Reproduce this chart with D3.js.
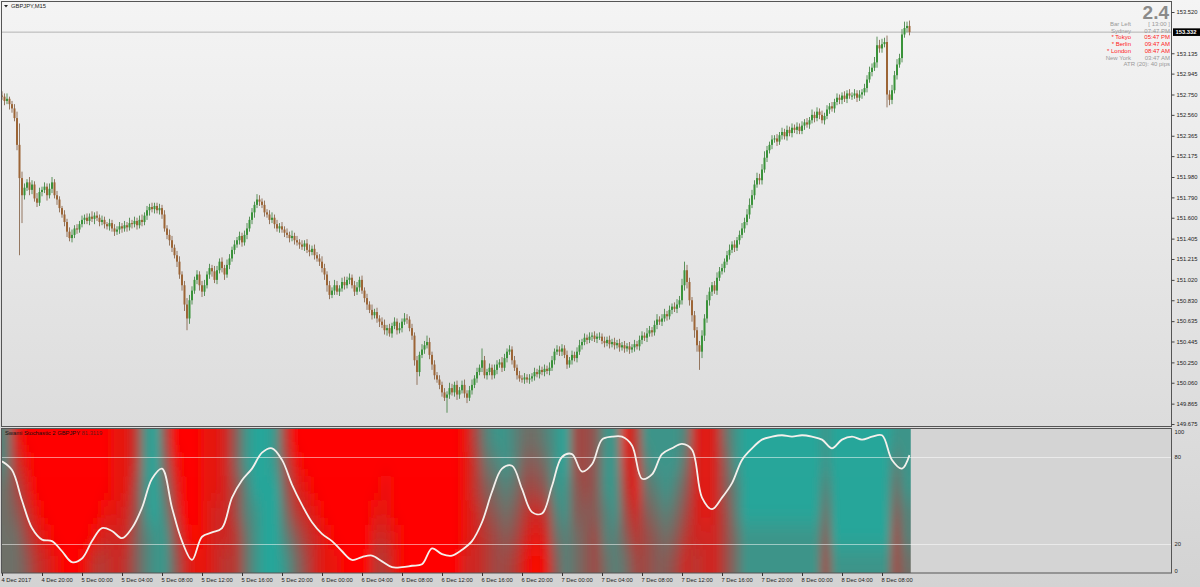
<!DOCTYPE html>
<html><head><meta charset="utf-8">
<script src="https://cdn.jsdelivr.net/npm/d3@7"></script>
<style>body{margin:0;background:#d6d6d6;overflow:hidden}svg{display:block}text{font-family:"Liberation Sans",Arial,sans-serif}</style>
</head><body><svg id="c" width="1200" height="587"></svg>
<script>
// ---------------- DATA ----------------
const symbolTitle = "GBPJPY,M15";
const firstOpen = 152.74;
const closes = [
152.73,152.69,152.71,152.66,152.62,152.53,152.28,151.97,151.81,151.88,151.93,151.86,151.91,151.78,151.74,151.84,
151.86,151.89,151.81,151.87,151.93,151.81,151.77,151.69,151.63,151.56,151.47,151.41,151.44,151.50,151.49,151.54,
151.58,151.60,151.57,151.61,151.59,151.62,151.60,151.56,151.58,151.54,151.52,151.55,151.50,151.47,151.49,151.52,
151.50,151.53,151.51,151.55,151.54,151.57,151.53,151.58,151.56,151.62,151.67,151.70,151.68,151.71,151.67,151.69,
151.63,151.50,151.44,151.39,151.32,151.25,151.19,151.07,150.97,150.79,150.66,150.83,150.92,151.02,151.07,150.97,
150.91,150.97,151.07,151.13,151.10,151.02,151.11,151.19,151.13,151.07,151.16,151.22,151.30,151.35,151.39,151.43,
151.37,151.44,151.50,151.58,151.65,151.72,151.77,151.75,151.72,151.65,151.63,151.58,151.60,151.54,151.50,151.52,
151.49,151.46,151.44,151.41,151.43,151.39,151.37,151.35,151.33,151.36,151.30,151.28,151.31,151.25,151.22,151.19,
151.13,151.07,150.97,150.88,150.92,150.97,150.91,150.94,151.00,150.97,151.02,151.04,150.97,150.91,150.95,151.02,
150.92,150.85,150.79,150.74,150.69,150.72,150.66,150.63,150.60,150.55,150.57,150.52,150.59,150.63,150.55,150.57,
150.63,150.66,150.65,150.57,150.50,150.27,150.16,150.32,150.37,150.41,150.44,150.32,150.23,150.13,150.09,150.04,
149.97,149.92,149.95,150.01,149.97,150.04,149.95,149.99,150.04,149.96,149.92,149.99,150.04,150.10,150.16,150.20,
150.27,150.13,150.16,150.20,150.13,150.18,150.23,150.25,150.20,150.29,150.35,150.37,150.27,150.20,150.13,150.10,
150.09,150.11,150.09,150.10,150.12,150.16,150.14,150.18,150.16,150.19,150.17,150.20,150.27,150.35,150.37,150.35,
150.38,150.32,150.23,150.27,150.32,150.29,150.35,150.41,150.44,150.48,150.46,150.49,150.50,150.47,150.49,150.49,
150.45,150.43,150.46,150.42,150.44,150.41,150.43,150.39,150.41,150.38,150.40,150.37,150.39,150.42,150.40,150.46,
150.50,150.48,150.52,150.55,150.53,150.60,150.65,150.63,150.66,150.70,150.68,150.74,150.77,150.75,150.79,150.83,
150.97,151.11,151.00,150.83,150.69,150.55,150.41,150.35,150.50,150.66,150.83,150.91,150.97,150.92,151.04,151.10,
151.13,151.19,151.25,151.30,151.35,151.32,151.39,151.44,151.50,151.56,151.63,151.72,151.81,151.91,151.97,151.95,
152.05,152.16,152.23,152.28,152.33,152.34,152.31,152.37,152.40,152.36,152.42,152.39,152.44,152.42,152.45,152.41,
152.46,152.49,152.47,152.51,152.56,152.53,152.59,152.56,152.51,152.55,152.61,152.64,152.62,152.68,152.72,152.70,
152.74,152.71,152.76,152.74,152.74,152.76,152.72,152.75,152.77,152.81,152.89,152.96,153.00,153.05,153.21,153.18,
153.22,153.24,152.75,152.70,152.79,152.93,153.03,153.09,153.31,153.37,153.39,153.332];
// wick extensions beyond the body, in pips (0.01)
const wickUpPips = [
4,3,5,2,3,4,6,20,6,4,3,5,4,3,5,4, 3,4,3,5,5,3,4,3,2,4,3,4,5,3,4,3,
4,3,4,3,5,3,4,3,4,3,2,4,3,4,3,4, 3,4,3,5,3,4,3,4,5,3,4,3,4,3,3,4,
3,4,3,5,4,3,4,5,3,4,6,5,4,3,4,3, 4,5,3,4,3,5,4,3,4,3,5,4,3,4,3,4,
3,4,5,3,4,3,5,4,3,4,3,4,5,3,4,3, 4,3,4,3,5,3,4,3,4,3,4,5,3,4,3,4,
5,4,3,4,3,5,4,3,4,5,3,4,3,4,5,3, 4,3,4,3,5,3,4,3,4,5,3,4,3,4,3,5,
3,5,4,3,4,3,4,3,5,4,6,4,3,4,3,4, 3,4,3,5,4,3,4,3,4,5,3,4,5,3,4,3,
11,4,3,4,3,5,4,3,5,4,3,4,3,4,3,4, 3,4,3,4,3,4,3,4,3,4,3,5,4,3,4,3,
4,3,4,3,4,3,4,5,3,4,3,4,3,4,3,4, 3,4,3,4,3,4,3,4,3,4,3,4,3,4,3,4,
4,3,5,4,3,4,5,3,4,5,3,4,3,4,5,4, 6,8,5,4,3,4,3,4,5,4,5,4,3,4,5,4,
4,3,4,5,3,4,3,4,5,4,5,6,5,4,5,4, 5,6,4,3,4,3,4,3,4,3,4,3,4,3,4,3,
4,3,4,3,5,3,4,3,4,3,4,3,4,3,4,3, 3,4,3,4,3,4,3,4,3,4,4,5,4,5,8,5,
5,4,6,4,5,4,5,4,5,6,4,5];
const wickDownPips = [
3,4,3,5,4,3,5,72,26,4,3,5,4,3,4,3, 4,3,5,3,4,3,5,4,3,4,5,3,4,3,4,3,
3,4,3,4,3,5,3,4,3,4,3,4,3,4,3,4, 4,3,4,3,4,3,4,3,4,3,4,5,3,4,3,4,
4,3,4,5,4,3,5,4,5,6,11,5,4,3,4,5, 5,4,3,4,5,3,4,3,4,5,3,4,3,4,3,4,
4,3,4,3,4,5,3,4,3,4,3,4,3,4,3,4, 3,4,3,4,3,4,3,4,3,4,3,4,3,4,3,4,
4,5,6,4,3,4,3,4,3,4,3,4,3,4,3,4, 3,4,5,3,4,3,4,5,3,4,5,3,4,3,4,3,
4,3,4,3,4,5,12,4,3,4,3,4,5,4,3,4, 4,3,14,4,3,4,5,4,3,4,5,3,4,3,4,3,
4,3,4,3,4,3,4,3,4,3,4,3,4,3,4,3, 3,4,3,4,3,4,3,4,3,4,3,4,3,4,3,4,
4,3,4,3,4,3,4,3,4,3,4,3,4,3,4,3, 3,4,3,4,3,4,3,4,3,4,3,4,3,4,3,4,
4,3,4,3,4,3,4,3,4,3,4,3,4,3,4,3, 4,5,6,5,6,7,6,17,6,5,4,5,4,3,4,3,
3,4,3,4,3,4,3,4,3,4,3,4,3,4,3,4, 4,3,4,3,4,3,4,3,4,3,4,3,4,3,4,3,
3,4,3,4,3,4,3,4,3,4,3,4,3,4,3,4, 4,3,4,3,4,3,4,3,4,3,4,3,4,3,5,4,
4,3,12,5,4,3,4,3,4,3,4,3];
const priceTicks = [153.520,153.135,152.945,152.750,152.560,152.365,152.175,151.980,151.790,151.600,151.405,151.215,151.020,150.830,150.635,150.445,150.250,150.060,149.865,149.675];
const currentPrice = 153.332;
const timeLabels = ["4 Dec 2017","4 Dec 20:00","5 Dec 00:00","5 Dec 04:00","5 Dec 08:00","5 Dec 12:00","5 Dec 16:00","5 Dec 20:00","6 Dec 00:00","6 Dec 04:00","6 Dec 08:00","6 Dec 12:00","6 Dec 16:00","6 Dec 20:00","7 Dec 00:00","7 Dec 04:00","7 Dec 08:00","7 Dec 12:00","7 Dec 16:00","7 Dec 20:00","8 Dec 00:00","8 Dec 04:00","8 Dec 08:00"];
const timeLabelBars = [0,16,32,48,64,80,96,112,128,144,160,176,192,208,224,240,256,272,288,304,320,336,352];
// Swami stochastic main line, sampled every 4 bars, last value at the last bar
const stochValues = [77,71,50,31,23,22,15,7.5,10,22,31,29,24,31,45,65,72,45,22,9,25,28,31,52,64,72,83,86,78,61,47,35,27,22,15,9,11,12,8,4,4,5,6,17,13,12,16,22,35,56,72,74,58,42,41,60,80,82,70,75,92,94,94,88,65,68,82,86,89,85,52,44,52,62,78,86,92,94,95,94,95,94,92,86,92,94,92,94,95,78,72,81.3119];
const stochLevels = [80,20];
const stochTicks = [100,80,20,0];
const indicatorName = "Swami Stochastic 2 GBPJPY";
// Swami heat map: one string per 4-bar column, digits top->bottom, 0 = bearish(red) .. 9 = bullish(teal)
const heatCols = ["776666","234566","012345","000123","000012","000001","000000","000000","000001","000013",
"000123","111122","111223","334455","888877","999988","456788","012345","000012","000001",
"111111","111222","222223","554433","887766","999888","999999","889999","345678","012356",
"001234","000122","000011","000001","000000","000000","000000","000123","001123","000011",
"000000","000000","000000","000000","000000","000000","111112","433222","765433","876544",
"887654","776543","654321","654210","765321","888765","998877","445566","444555","555544",
"888776","888877","123456","321234","876544","887655","888765","887654","765432","222223",
"111122","222222","655444","887766","999988","999988","999988","999988","999988","999988",
"999988","999988","887654","999998","999998","999998","999998","999998","999998","876544","888776"];
const bigNumber = "2.4";
const infoLabels = ["Bar Left","Sydney","* Tokyo","* Berlin","* London","New York"];
const infoValues = ["[ 13:00 ]","07:47 PM","05:47 PM","09:47 AM","08:47 AM","03:47 AM"];
const sessionOpen = [false,false,true,true,true,false];
const atrText = "ATR (20): 40 pips";

// ---------------- LAYOUT ----------------
const svg = d3.select("#c");
const L = 2, R = 1172, mainT = 2, mainB = 427, indT = 428, indB = 573;
const nBars = closes.length;
const x = d3.scaleLinear().domain([0, nBars - 1]).range([2, 2 + 2.5 * (nBars - 1)]);
const yP = d3.scaleLinear().domain([149.675, 153.520]).range([424, 12]);
const yS = d3.scaleLinear().domain([0, 100]).range([indB, indT]);
const heatColor = d3.scaleLinear().domain([0, 9]).range(["#ff0000", "#26a69a"]);

const defs = svg.append("defs");
const g = defs.append("linearGradient").attr("id","bg").attr("x1",0).attr("y1",0).attr("x2",0).attr("y2",1);
g.append("stop").attr("offset","0%").attr("stop-color","#f4f4f4");
g.append("stop").attr("offset","100%").attr("stop-color","#d3d3d3");
defs.append("clipPath").attr("id","indClip").append("rect")
  .attr("x", L).attr("y", indT).attr("width", x(nBars - 1) + 1.25 - L).attr("height", indB - indT);
defs.append("clipPath").attr("id","mainClip").append("rect")
  .attr("x", L).attr("y", mainT).attr("width", R - L).attr("height", mainB - mainT);
const f = defs.append("filter").attr("id","blur").attr("filterUnits","userSpaceOnUse")
  .attr("x",-40).attr("y",indT-60).attr("width",1000).attr("height",indB-indT+120);
f.append("feGaussianBlur").attr("stdDeviation","5 11");

svg.append("rect").attr("width",1200).attr("height",587).attr("fill","url(#bg)");

// ---------------- MAIN PANE ----------------
const bars = closes.map((c, i) => {
  const o = i === 0 ? firstOpen : closes[i - 1];
  return { i, o, c, h: Math.max(o, c) + wickUpPips[i] / 100, l: Math.min(o, c) - wickDownPips[i] / 100 };
});
const mainG = svg.append("g").attr("clip-path","url(#mainClip)");
mainG.append("line").attr("x1", L).attr("x2", R).attr("y1", yP(currentPrice)).attr("y2", yP(currentPrice))
  .attr("stroke","#b4b4b4").attr("stroke-width",1);
const bull = "#3a933a", bear = "#9c6536";
mainG.selectAll("line.wick").data(bars).join("line").attr("class","wick")
  .attr("x1", d => x(d.i)).attr("x2", d => x(d.i)).attr("y1", d => yP(d.h)).attr("y2", d => yP(d.l))
  .attr("stroke", d => d.c >= d.o ? "#4a864a" : "#8a6a50").attr("stroke-width", 0.9);
mainG.selectAll("rect.body").data(bars).join("rect").attr("class","body")
  .attr("x", d => x(d.i) - 1).attr("width", 2)
  .attr("y", d => yP(Math.max(d.o, d.c)))
  .attr("height", d => Math.max(1, yP(Math.min(d.o, d.c)) - yP(Math.max(d.o, d.c))))
  .attr("fill", d => d.c >= d.o ? bull : bear);

// title
svg.append("path").attr("d","M4,5 L8,5 L6,7.5 Z").attr("fill","#222");
svg.append("text").attr("x",11).attr("y",8.2).attr("font-size",5.8).attr("fill","#222").text(symbolTitle);

// info panel
svg.append("text").attr("x",1169).attr("y",18.5).attr("text-anchor","end").attr("font-size",19)
  .attr("font-weight","bold").attr("fill","#8a8a8a").text(bigNumber);
const info = svg.append("g").attr("font-size",6);
infoLabels.forEach((t, k) => {
  const yy = 26 + k * 6.7;
  const col = sessionOpen[k] ? "#ff1a1a" : "#999";
  info.append("text").attr("x",1131).attr("y",yy).attr("text-anchor","end").attr("fill",col).text(t);
  info.append("text").attr("x",1170).attr("y",yy).attr("text-anchor","end").attr("fill",col).text(infoValues[k]);
});
info.append("text").attr("x",1170).attr("y",26 + 6 * 6.7).attr("text-anchor","end").attr("fill","#999").text(atrText);

// ---------------- INDICATOR PANE ----------------
svg.append("rect").attr("x",L).attr("y",indT).attr("width",R-L).attr("height",indB-indT).attr("fill","#d4d4d4");
const heatG = svg.append("g").attr("clip-path","url(#indClip)").append("g").attr("filter","url(#blur)");
const nRows = heatCols[0].length, rowH = (indB - indT) / nRows;
const cells = [];
heatCols.forEach((s, c) => {
  for (let r = 0; r < nRows; r++) cells.push({ c, r, v: +s[r] });
});
heatG.selectAll("rect").data(cells).join("rect")
  .attr("x", d => x(d.c * 4) - 1.25 - (d.c === 0 ? 20 : 0))
  .attr("width", d => 10.5 + (d.c === 0 ? 20 : 0) + (d.c === heatCols.length - 1 ? 30 : 0))
  .attr("y", d => indT + d.r * rowH - (d.r === 0 ? 40 : 0))
  .attr("height", d => rowH + 0.5 + (d.r === 0 ? 40 : 0) + (d.r === nRows - 1 ? 40 : 0))
  .attr("fill", d => heatColor(d.v));

// level lines
svg.selectAll("line.lvl").data(stochLevels).join("line").attr("class","lvl")
  .attr("x1", L).attr("x2", R).attr("y1", d => Math.round(yS(d)) + 0.5).attr("y2", d => Math.round(yS(d)) + 0.5)
  .attr("stroke","#ffffff").attr("stroke-opacity",0.5).attr("stroke-width",1);

// stochastic line
const stochBar = k => Math.min(k * 4, nBars - 1);
const line = d3.line().x((d, k) => x(stochBar(k))).y(d => yS(d)).curve(d3.curveCatmullRom.alpha(0.5));
svg.append("path").datum(stochValues).attr("d", line).attr("fill","none")
  .attr("stroke","#f4f0ec").attr("stroke-width",1.8).attr("clip-path","url(#indClip)");

svg.append("text").attr("x",5).attr("y",435).attr("font-size",5.8).attr("fill","#111")
  .text(indicatorName + " ").append("tspan").attr("fill","#6a1a1a").text(d3.format(".4f")(stochValues[stochValues.length-1]));

// ---------------- FRAMES & AXES ----------------
svg.append("rect").attr("x",L-0.5).attr("y",mainT-0.5).attr("width",R-L).attr("height",mainB-mainT)
  .attr("fill","none").attr("stroke","#555");
svg.append("rect").attr("x",L-0.5).attr("y",indT+0.5).attr("width",R-L).attr("height",indB-indT-0.5)
  .attr("fill","none").attr("stroke","#555");

const pAxis = svg.append("g").attr("transform",`translate(${R - 0.5},0)`)
  .call(d3.axisRight(yP).tickValues(priceTicks).tickFormat(d3.format(".3f")).tickSize(3).tickPadding(2));
pAxis.select(".domain").remove();
pAxis.selectAll("text").attr("font-size",5.8).attr("fill","#222").attr("font-family","Liberation Sans");
pAxis.selectAll("line").attr("stroke","#444");

// current price tag
svg.append("rect").attr("x",R+1).attr("y",yP(currentPrice)-3.8).attr("width",1200-R-1).attr("height",7.6).attr("fill","#000");
svg.append("text").attr("x",R+3.5).attr("y",yP(currentPrice)+2.1).attr("font-size",5.8).attr("fill","#fff").attr("font-weight","bold")
  .text(d3.format(".3f")(currentPrice));

const sAxis = svg.append("g").attr("transform",`translate(${R - 0.5},0)`)
  .call(d3.axisRight(yS).tickValues(stochTicks).tickSize(0).tickPadding(3));
sAxis.select(".domain").remove();
sAxis.selectAll("text").attr("font-size",5.8).attr("fill","#222").attr("font-family","Liberation Sans")
  .attr("dy", d => d === 100 ? "0.9em" : (d === 0 ? "-0.1em" : "0.32em"));

const tAxis = svg.append("g").attr("transform",`translate(0,${indB})`)
  .call(d3.axisBottom(x).tickValues(timeLabelBars).tickFormat((d, k) => timeLabels[k]).tickSize(3).tickPadding(2));
tAxis.select(".domain").remove();
tAxis.selectAll("line").attr("stroke","#333");
tAxis.selectAll("text").attr("font-size",5.8).attr("fill","#222").attr("text-anchor","start").attr("dx",-1).attr("font-family","Liberation Sans");
</script></body></html>
